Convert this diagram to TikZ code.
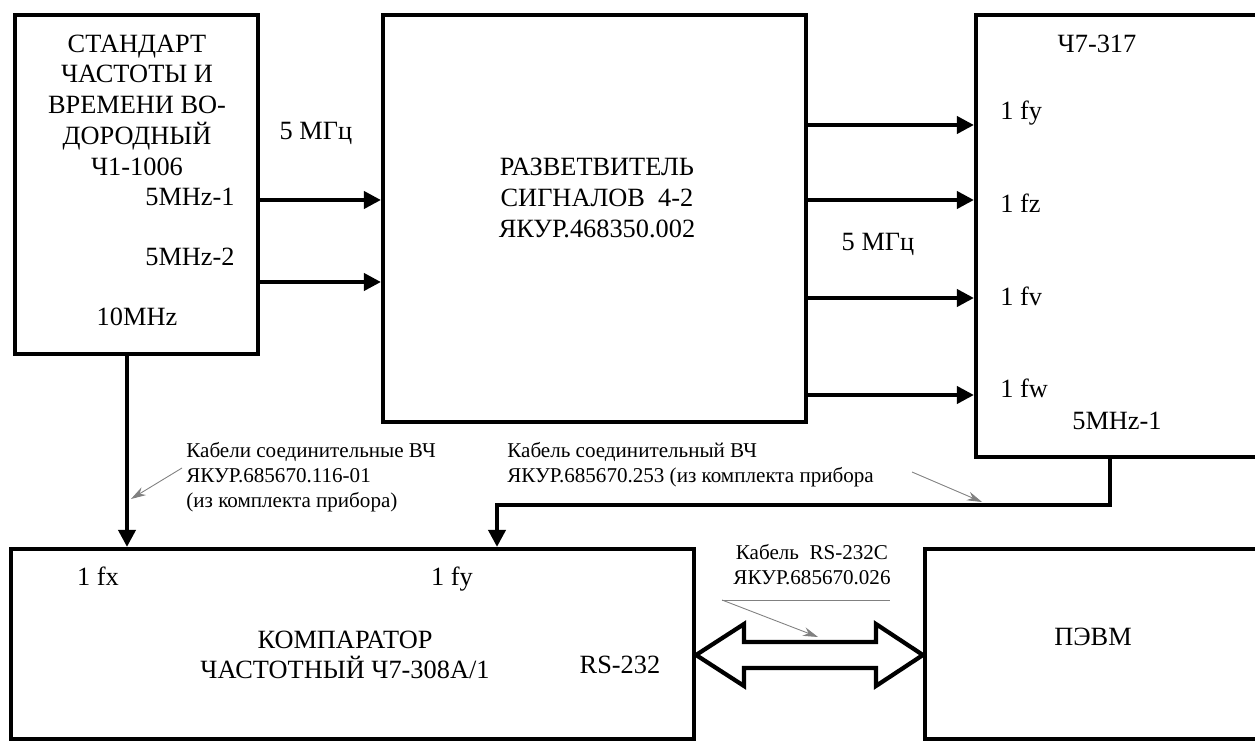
\documentclass[tikz,border=0pt]{standalone}
\usepackage{fontspec}
\setmainfont{Liberation Serif}
\usetikzlibrary{positioning, calc, arrows.meta}
\tikzset{
  blk/.style={draw, line width=2.4pt, inner sep=0pt},
  lbl/.style={font=\fontsize{15}{17.5}\selectfont, inner sep=0pt, align=center},
  port/.style={lbl, text height=0.7em, text depth=0.25em},
  note/.style={font=\fontsize{12}{14.2}\selectfont, inner sep=0pt, align=left},
  sig/.style={line width=2.2pt, line join=miter, -{Triangle[length=0.34cm, width=0.34cm]}},
  callout/.style={gray, line width=0.5pt, -{Stealth[length=0.3cm, width=0.18cm]}}
}
\begin{document}
\begin{tikzpicture}[x=0.02cm, y=-0.02cm]
        \useasboundingbox (0,0) rectangle (1255,742);

        % Blocks
        \node[blk, minimum width=4.86cm, minimum height=6.78cm] (std) at (136.5,184.5) {};
        \node[blk, minimum width=8.46cm, minimum height=8.14cm] (spl) at (594.5,218.5) {};
        \node[blk, minimum width=5.98cm, minimum height=8.84cm] (ch) at (1125.5,236) {};
        \node[blk, minimum width=13.66cm, minimum height=3.8cm] (cmp) at (352.5,644) {};
        \node[blk, minimum width=7cm, minimum height=3.8cm] (pc) at (1100,644) {};

        % Hydrogen standard texts
        \node[lbl] (stdname) at (137,105) {СТАНДАРТ\\ЧАСТОТЫ И\\ВРЕМЕНИ ВО-\\ДОРОДНЫЙ\\Ч1-1006};
        \node[port, anchor=east] (out1) at (235,202) {5MHz-1};
        \node[port, anchor=east] (out2) at (235,262) {5MHz-2};
        \node[port] (out10) at (137,322) {10MHz};
        \node[port] (fa) at (316,136) {5 МГц};

        % Splitter texts
        \node[lbl] (splname) at (597,198) {РАЗВЕТВИТЕЛЬ\\СИГНАЛОВ~~4-2\\ЯКУР.468350.002};
        \node[port] (fb) at (878,247) {5 МГц};

        % Ch7-317 texts
        \node[port] (chname) at (1097,49) {Ч7-317};
        \node[port, anchor=west] (in1) at (1000,116) {1 fy};
        \node[port, anchor=west] (in2) at (1000,209) {1 fz};
        \node[port, anchor=west] (in3) at (1000,302) {1 fv};
        \node[port, anchor=west] (in4) at (1000,394) {1 fw};
        \node[port] (chout) at (1117,426) {5MHz-1};

        % Comparator and PC texts
        \node[port] (fx) at (98,582) {1 fx};
        \node[port] (fy) at (452,582) {1 fy};
        \node[lbl] (cmpname) at (345,655) {КОМПАРАТОР\\ЧАСТОТНЫЙ Ч7-308А/1};
        \node[port] (rs) at (620,670) {RS-232};
        \node[port] (pcname) at (1093,642) {ПЭВМ};

        % Signal arrows
        \draw[sig] (std.east |- 0,200) -- (spl.west |- 0,200);
        \draw[sig] (std.east |- 0,282) -- (spl.west |- 0,282);
        \foreach \yy in {125,200,298,395}
          \draw[sig] (spl.east |- 0,\yy) -- (ch.west |- 0,\yy);
        \draw[sig] (std.south -| 127,0) -- (cmp.north -| 127,0);
        \coordinate (bend) at (497,505);
        \draw[sig] (ch.south -| 1110,0) |- (bend) -- (cmp.north -| bend);

        % RS-232 double arrow
        \coordinate (dl) at (cmp.east |- 0,655);
        \coordinate (dr) at (pc.west |- 0,655);
        \draw[line width=2.4pt, line join=miter] (dl) -- ++(48,-31) -- ++(0,18)
          -- ($(dr)+(-47,-13)$) -- ++(0,-18) -- (dr) -- ++(-47,31) -- ++(0,-18)
          -- ($(dl)+(48,13)$) -- ++(0,18) -- cycle;

        % Cable notes
        \node[note, anchor=west] (n1) at (186,477) {Кабели соединительные ВЧ\\ЯКУР.685670.116-01\\(из комплекта прибора)};
        \node[note, anchor=west] (n2) at (507,465) {Кабель соединительный ВЧ\\ЯКУР.685670.253 (из комплекта прибора};
        \node[note, align=center] (n3) at (812,565) {Кабель~~RS-232C\\ЯКУР.685670.026};

        % Grey pointers
        \coordinate (p1) at (182,468);
        \coordinate (q1) at (131,499);
        \draw[callout] (p1) -- (q1);
        \coordinate (p2) at (912,472);
        \coordinate (q2) at (982,502);
        \draw[callout] (p2) -- (q2);
        \coordinate (p3) at (722,600);
        \coordinate (r3) at (890,600);
        \coordinate (q3) at (818,637);
        \draw[gray, line width=0.5pt] (p3) -- (r3);
        \draw[callout] (p3) -- (q3);

    \end{tikzpicture}
\end{document}
